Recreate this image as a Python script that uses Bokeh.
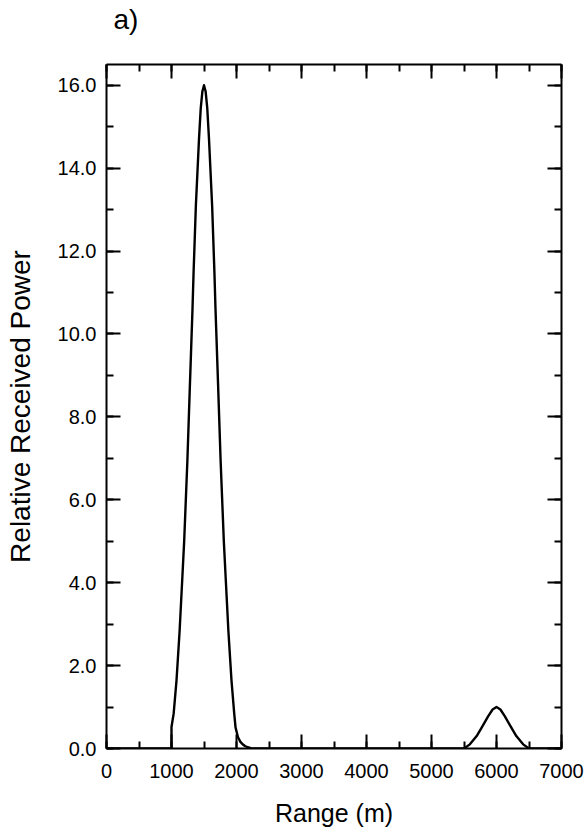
from bokeh.plotting import figure
from bokeh.models import (LinearAxis, SingleIntervalTicker, PrintfTickFormatter,
                          Range1d, CustomLabelingPolicy)
from bokeh.embed import file_html
from bokeh.resources import INLINE

# Range (m) and relative received power
range_m = [0, 1000, 1000, 1033, 1077, 1125, 1164, 1195, 1244, 1285, 1323, 1340,
           1375, 1423, 1450, 1475, 1500, 1525, 1550, 1577, 1625, 1660, 1677,
           1715, 1756, 1805, 1836, 1875, 1923, 1965, 1985, 2023, 2060, 2090,
           2130, 2175, 2220, 2300, 5500, 5590, 5695, 5785, 5873, 5940, 6000,
           6060, 6127, 6215, 6305, 6410, 6500, 7000]
power = [0.0, 0.0, 0.52, 0.84, 1.64, 2.84, 4.04, 5.0, 6.93, 8.85, 10.6, 11.5,
         13.1, 14.7, 15.45, 15.85, 16.0, 15.85, 15.45, 14.7, 13.1, 11.5, 10.6,
         8.85, 6.93, 5.0, 4.04, 2.84, 1.64, 0.84, 0.51, 0.27, 0.16, 0.11,
         0.06, 0.03, 0.01, 0.0, 0.0, 0.10, 0.30, 0.54, 0.78, 0.94, 1.0,
         0.94, 0.78, 0.54, 0.30, 0.10, 0.0, 0.0]

x_title = "Range (m)"
y_title = "Relative Received Power"
panel_tag = "\u00a0\u00a0\u00a0\u00a0\u00a0a)"

FONT = "Liberation Sans"

p = figure(width=584, height=833, title=None,
           x_range=Range1d(0, 7000), y_range=Range1d(0, 16.5),
           output_backend="svg", toolbar_location=None,
           min_border_left=106, min_border_right=23,
           min_border_top=63, min_border_bottom=85)
p.grid.visible = False
p.outline_line_color = None
p.background_fill_color = "white"
p.border_fill_color = "white"

p.line(range_m, power, line_color="black", line_width=2.4, line_join="round")

hide_all = CustomLabelingPolicy(code="""
const all = Array.from(indices)
for (const i of all) indices.unset(i)
return indices
""")

def style_axis(ax, labels=True):
    ax.axis_line_color = "black"
    ax.axis_line_width = 2
    ax.major_tick_line_color = "black"
    ax.major_tick_line_width = 2
    ax.minor_tick_line_color = "black"
    ax.minor_tick_line_width = 2
    ax.major_tick_in = 14
    ax.major_tick_out = 0
    ax.minor_tick_in = 7
    ax.minor_tick_out = 0
    ax.major_label_text_font = FONT
    ax.major_label_text_color = "black"
    ax.axis_label_text_font = FONT
    ax.axis_label_text_font_style = "normal"
    ax.axis_label_text_color = "black"
    ax.major_label_text_font_size = "20px"
    if not labels:
        ax.major_label_policy = hide_all
        ax.major_label_text_font_size = "1px"
        ax.major_label_standoff = 0

xb = p.xaxis[0]
xb.ticker = SingleIntervalTicker(interval=1000, num_minor_ticks=2)
style_axis(xb)
xb.major_label_standoff = 15
xb.axis_label = x_title
xb.axis_label_text_font_size = "25px"
xb.axis_label_standoff = 18

yl = p.yaxis[0]
yl.ticker = SingleIntervalTicker(interval=2, num_minor_ticks=2)
yl.formatter = PrintfTickFormatter(format="%.1f")
style_axis(yl)
yl.major_label_standoff = 10
yl.axis_label = y_title
yl.axis_label_text_font_size = "28px"
yl.axis_label_standoff = 19

xa = LinearAxis(ticker=SingleIntervalTicker(interval=1000, num_minor_ticks=2))
style_axis(xa, labels=False)
xa.axis_label = panel_tag
xa.axis_label_text_font_size = "28px"
xa.axis_label_align = "start"
xa.axis_label_standoff = 26
p.add_layout(xa, "above")

yr = LinearAxis(ticker=SingleIntervalTicker(interval=2, num_minor_ticks=2))
style_axis(yr, labels=False)
p.add_layout(yr, "right")

open("out.html", "w").write(file_html(p, INLINE))
